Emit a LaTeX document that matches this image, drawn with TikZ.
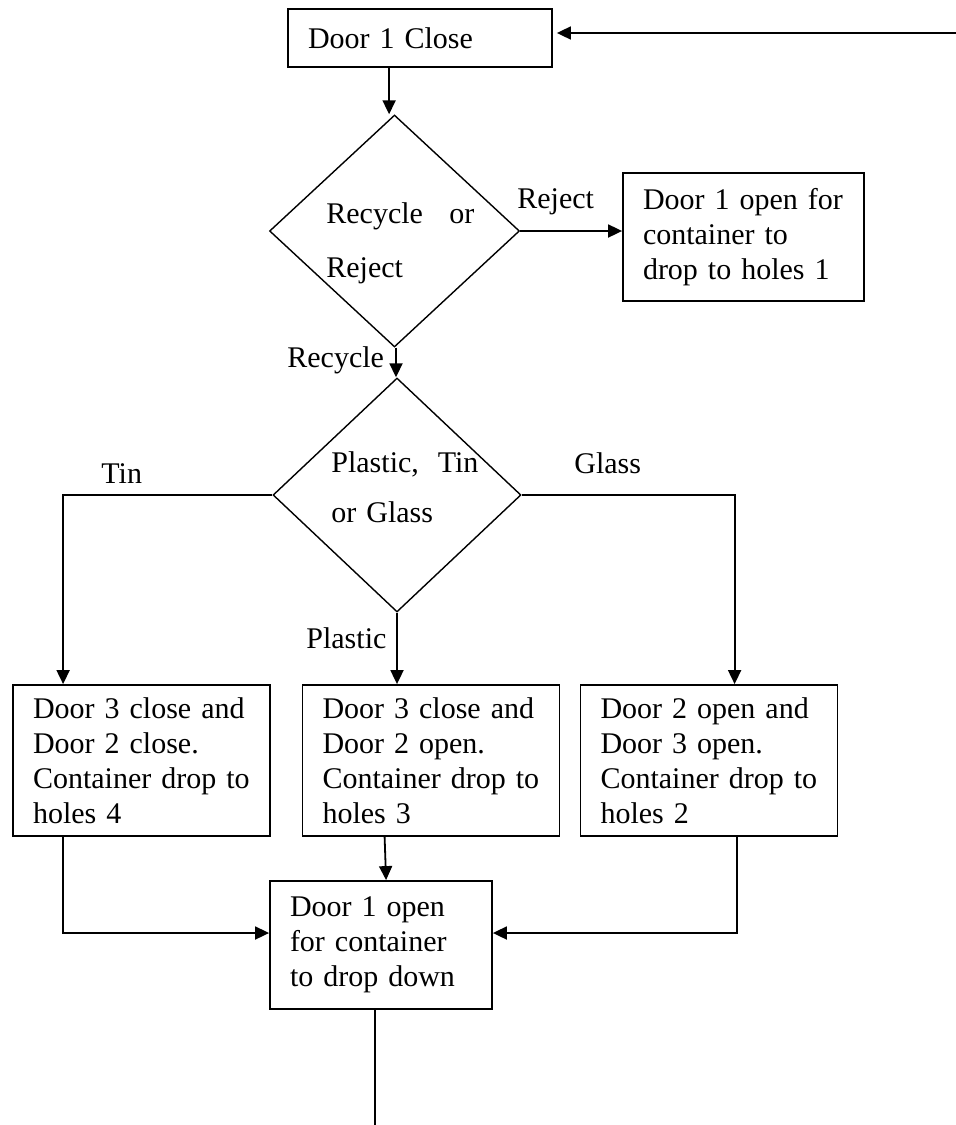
\documentclass[tikz,border=0pt]{standalone}
\usepackage{fontspec}
\setmainfont{Liberation Serif}
\usetikzlibrary{
    arrows.meta,
    shapes.geometric,
    calc
}
\tikzset{
    % Fonts
    every node/.style={font=\fontsize{15pt}{17.5pt}\selectfont},
    %
    % Nodes
    flow box/.style={draw,line width=.9pt,rectangle,inner xsep=10pt,inner ysep=0pt,align=left},
    big box/.style={flow box,minimum width=128.5pt,minimum height=75.5pt,text width=108.5pt},
    decision/.style={draw,line width=.7pt,diamond,inner sep=0pt},
    diamond text/.style={anchor=base west,inner sep=0pt,align=left},
    lbl/.style={anchor=base west,inner sep=0pt},
    %
    % Arrows
    arrow tip/.tip={Triangle[length=7pt,width=6.5pt]},
    arr/.style={->,>={arrow tip},line width=.9pt}
}

\begin{document}
\begin{tikzpicture}[x=.5pt,y=-.5pt]
        \useasboundingbox (0,0) rectangle (956,1125);
        \node[flow box,minimum width=132pt,minimum height=29pt,text width=112pt] (close) at (420,38) {Door 1 Close};
        \node[decision,minimum width=125pt,minimum height=116pt] (recycle) at (394.5,231) {};
        \node[diamond text,text width=74pt,font=\fontsize{15pt}{27pt}\selectfont] (recycle text) at (326,223) {Recycle\hfill or\\Reject};
        \node[flow box,minimum width=120.5pt,minimum height=64pt,text width=100.5pt] (holes1) at (743.5,237) {Door 1 open for\\container to\\drop to holes 1};
        \node[decision,minimum width=124pt,minimum height=117pt] (material) at (397,495) {};
        \node[diamond text,text width=73.5pt,font=\fontsize{15pt}{25pt}\selectfont] (material text) at (331,472) {Plastic,\hfill Tin\\or Glass};
        \node[big box] (holes4) at (141.5,760.5) {Door 3 close and\\Door 2 close.\\Container drop to\\holes 4};
        \node[big box] (holes3) at (431,760.5) {Door 3 close and\\Door 2 open.\\Container drop to\\holes 3};
        \node[big box] (holes2) at (709,760.5) {Door 2 open and\\Door 3 open.\\Container drop to\\holes 2};
        \node[flow box,minimum width=111pt,minimum height=64pt,text width=91pt] (drop) at (381,945) {Door 1 open\\for container\\to drop down};
        \coordinate (loop) at (956,33);
        \coordinate (exit) at (375,1125);
        \coordinate (close out) at ($(close.south west)+(102,0)$);
        \coordinate (recycle out) at ($(recycle.south)+(1.5,0)$);
        % connectors
        \draw[arr,shorten >=2pt] (loop) -- (loop -| close.east);
        \draw[arr] (close out) -- (close out |- recycle.north);
        \draw[arr] (recycle.east) -- (recycle.east -| holes1.west);
        \draw[arr] (recycle out) -- (recycle out |- material.north);
        \draw[arr] (material.west) -| ($(holes4.north west)+(51,0)$);
        \draw[arr] (material.east) -| ($(holes2.north west)+(155,0)$);
        \draw[arr] (material.south) -- (material.south |- holes3.north);
        \draw[arr] ($(holes4.south west)+(51,0)$) |- ($(drop.west)+(0,-12)$);
        \draw[arr] ($(holes2.south west)+(157,0)$) |- ($(drop.east)+(0,-12)$);
        \draw[arr] ($(holes3.south west)+(83,0)$) -- ($(drop.north west)+(117,0)$);
        \draw[line width=.9pt] (exit |- drop.south) -- (exit);
        % labels
        \node[lbl] (reject lbl) at (517,208) {Reject};
        \node[lbl] (recycle lbl) at (287,367) {Recycle};
        \node[lbl] (tin lbl) at (101,483) {Tin};
        \node[lbl] (glass lbl) at (574,473) {Glass};
        \node[lbl] (plastic lbl) at (306,648) {Plastic};
    \end{tikzpicture}
\end{document}
